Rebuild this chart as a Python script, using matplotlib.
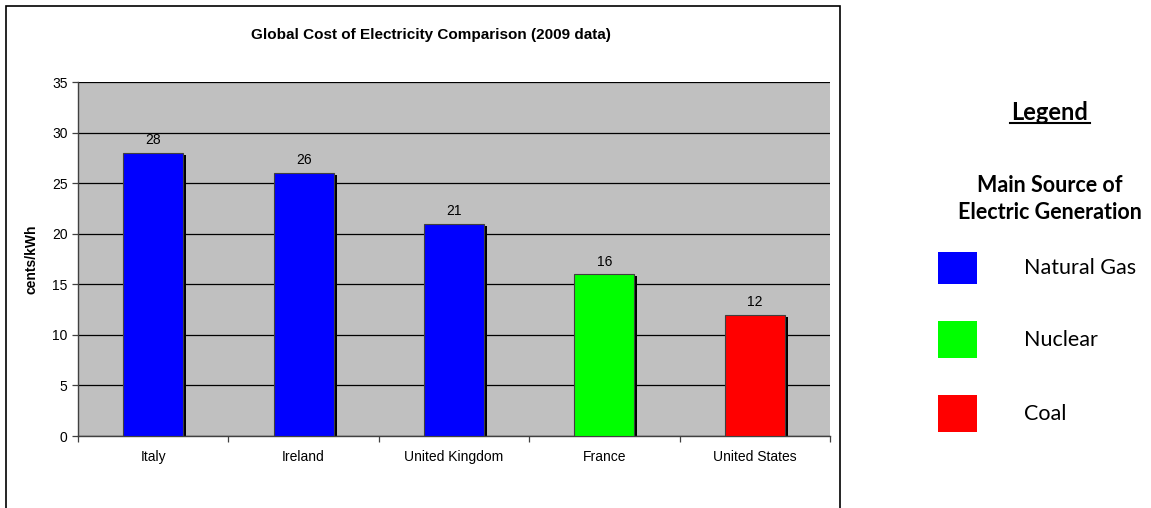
import numpy as np
import matplotlib
matplotlib.use("Agg")
from matplotlib import pyplot as plt
from matplotlib.patches import Rectangle
from matplotlib.lines import Line2D

plt.rcParams['font.family'] = ['Liberation Sans', 'DejaVu Sans']

# data
countries = ["Italy", "Ireland", "United Kingdom", "France", "United States"]
cost = [28, 26, 21, 16, 12]
source = ["Natural Gas", "Natural Gas", "Natural Gas", "Nuclear", "Coal"]
source_names = ["Natural Gas", "Nuclear", "Coal"]
source_colors = {"Natural Gas": "#0000ff", "Nuclear": "#00ff00", "Coal": "#ff0000"}
yticks = [0, 5, 10, 15, 20, 25, 30, 35]

W, H = 1151, 508
fig = plt.figure(figsize=(W / 100, H / 100), dpi=100)
fig.patch.set_facecolor("white")

# outer chart frame
fig.patches.append(Rectangle((6 / W, -0.05), (840 - 6) / W, 1.05 - 6 / H,
                             transform=fig.transFigure, fill=False,
                             edgecolor="black", linewidth=1.2))

ax = fig.add_axes([78 / W, 1 - 436 / H, (830 - 78) / W, (436 - 82) / H])
ax.set_facecolor("#c0c0c0")

x = np.arange(len(countries))
colors = [source_colors[s] for s in source]
bw = 0.4

# shadow bars
ax.bar(x + 0.02, np.array(cost) - 0.23, width=bw, color="black", zorder=2)
ax.bar(x, cost, width=bw, color=colors, edgecolor="#404040", linewidth=0.8, zorder=3)

for xi, v in zip(x, cost):
    ax.annotate(str(v), (xi, v), xytext=(0, 4), textcoords="offset points",
                ha="center", va="bottom", fontsize=10)

ax.set_xlim(-0.5, len(countries) - 0.5)
ax.set_ylim(0, 35)
ax.set_yticks(yticks)
ax.yaxis.grid(True, color="black", linewidth=0.9, zorder=1)
ax.set_axisbelow(True)
ax.tick_params(axis="y", labelsize=10, length=4, width=0.9, color="#404040")

ax.set_xticks(x)
ax.set_xticklabels(countries, fontsize=10)
ax.tick_params(axis="x", length=0, pad=10)
ax.set_xticks(np.arange(-0.5, len(countries)), minor=True)
ax.tick_params(axis="x", which="minor", length=4, width=0.9, color="#404040")

for side in ["top", "right"]:
    ax.spines[side].set_visible(False)
for side in ["left", "bottom"]:
    ax.spines[side].set_color("#404040")
    ax.spines[side].set_linewidth(1.0)

ax.set_ylabel("cents/kWh", fontsize=10, fontweight="bold", labelpad=10)
fig.text(431 / W, 1 - 35 / H, "Global Cost of Electricity Comparison (2009 data)",
         ha="center", va="center", fontsize=11, fontweight="bold")

# legend panel
lfont = ['Lato', 'DejaVu Sans']
fig.text(1050 / W, 1 - 112 / H, "Legend", ha="center", va="center",
         fontsize=17, fontweight="bold", family=lfont)
fig.lines.append(Line2D([1010 / W, 1090 / W], [1 - 123 / H, 1 - 123 / H],
                        transform=fig.transFigure, color="black", linewidth=1.5))
fig.text(1050 / W, 1 - 185 / H, "Main Source of", ha="center", va="center",
         fontsize=15.5, fontweight="bold", family=lfont)
fig.text(1050 / W, 1 - 213 / H, "Electric Generation", ha="center", va="center",
         fontsize=15.5, fontweight="bold", family=lfont)

box_top = [252, 321, 395]
box_h = [32, 37, 37]
for name, top, h in zip(source_names, box_top, box_h):
    fig.patches.append(Rectangle((938 / W, 1 - (top + h) / H), 39 / W, h / H,
                                 transform=fig.transFigure,
                                 facecolor=source_colors[name], edgecolor="none"))
    fig.text(1024 / W, 1 - (top + h / 2) / H, name, ha="left", va="center",
             fontsize=15.5, family=lfont)

fig.savefig("out.png", dpi=100)
